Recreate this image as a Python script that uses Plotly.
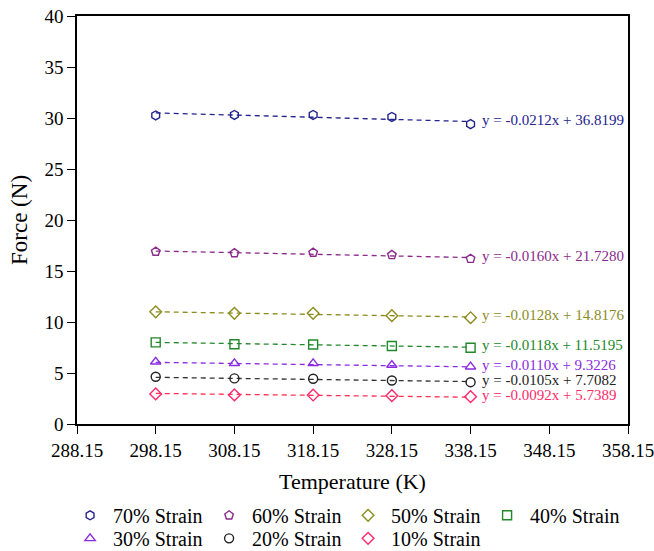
import plotly.graph_objects as go

# Temperature settings (K)
temperature = [298.15, 308.15, 318.15, 328.15, 338.15]

# Measured force (N) at each strain level
force_70 = [30.25, 30.3, 30.3, 30.1, 29.4]
force_60 = [16.9, 16.75, 16.8, 16.57, 16.2]
force_50 = [11.0, 10.85, 10.85, 10.62, 10.42]
force_40 = [8.0, 7.82, 7.8, 7.65, 7.48]
force_30 = [6.1, 5.95, 5.95, 5.78, 5.62]
force_20 = [4.63, 4.47, 4.44, 4.26, 4.1]
force_10 = [2.95, 2.85, 2.84, 2.78, 2.68]

# Linear fit coefficients (slope, intercept)
slopes = [-0.0212, -0.0160, -0.0128, -0.0118, -0.0110, -0.0105, -0.0092]
intercepts = [36.8199, 21.7280, 14.8176, 11.5195, 9.3226, 7.7082, 5.7389]

series_names = ["70% Strain", "60% Strain", "50% Strain", "40% Strain",
                "30% Strain", "20% Strain", "10% Strain"]
series_values = [force_70, force_60, force_50, force_40, force_30, force_20, force_10]

x_ticks = [288.15, 298.15, 308.15, 318.15, 328.15, 338.15, 348.15, 358.15]
y_ticks = [0, 5, 10, 15, 20, 25, 30, 35, 40]

colors = ["#23238E", "#8B2A8B", "#8C8C1E", "#23882A", "#8A2BE2", "#222222", "#FF2A6A"]
line_colors = ["#23238E", "#8B2A8B", "#8C8C1E", "#23882A", "#8A2BE2", "#333333", "#FF3050"]
symbols = ["hexagon-open", "pentagon-open", "diamond-open", "square-open",
           "triangle-up-open", "circle-open", "diamond-open"]
# first four entries on the upper legend row, the rest on the lower one
legend_rows = ["legend", "legend", "legend", "legend", "legend2", "legend2", "legend2"]

FONT = "Liberation Serif, Times New Roman, serif"

fig = go.Figure()

for name, vals, m, b, c, lc, sym, lg in zip(series_names, series_values, slopes,
                                            intercepts, colors, line_colors,
                                            symbols, legend_rows):
    fit = [m * t + b for t in temperature]
    fig.add_trace(go.Scatter(
        x=temperature, y=fit, mode="lines", showlegend=False, hoverinfo="skip",
        line=dict(color=lc, width=1.3, dash="5px,4px"),
    ))
    fig.add_trace(go.Scatter(
        x=temperature, y=vals, mode="markers", name=name, legend=lg,
        marker=dict(symbol=sym, size=9, color=c, line=dict(color=c, width=1.4)),
    ))
    fig.add_annotation(
        x=temperature[-1], y=fit[-1], xref="x", yref="y",
        text=f"y = {m:.4f}x + {b:.4f}", showarrow=False,
        xanchor="left", yanchor="middle", xshift=9, yshift=2,
        font=dict(family=FONT, size=15, color=c),
    )

axis_common = dict(
    showgrid=False, zeroline=False, showline=True, linecolor="black",
    linewidth=1.5, mirror=True, ticks="outside", ticklen=8, tickwidth=1.2,
    tickcolor="black", tickfont=dict(family=FONT, size=19, color="black"),
    ticklabeloverflow="allow",
)

fig.update_xaxes(
    range=[288.15, 358.15], tickvals=x_ticks,
    ticktext=[f"{v:.2f}" for v in x_ticks],
    title=dict(text="Temperature (K)", font=dict(family=FONT, size=22, color="black"),
               standoff=14),
    **axis_common,
)
fig.update_yaxes(
    range=[0, 40], tickvals=y_ticks,
    title=dict(text="Force (N)", font=dict(family=FONT, size=23, color="black"),
               standoff=10),
    **axis_common,
)

legend_common = dict(
    orientation="h", x=-0.018, xanchor="left", yanchor="top",
    entrywidth=88, entrywidthmode="pixels",
    font=dict(family=FONT, size=20, color="black"),
    tracegroupgap=0, itemwidth=36, bgcolor="rgba(0,0,0,0)",
)

fig.update_layout(
    width=654, height=551,
    margin=dict(l=77, r=26, t=16, b=127, autoexpand=False),
    paper_bgcolor="white", plot_bgcolor="white",
    showlegend=True,
    legend=dict(y=-0.176, **legend_common),
    legend2=dict(y=-0.2325, **legend_common),
)

fig.write_html("out.html")
